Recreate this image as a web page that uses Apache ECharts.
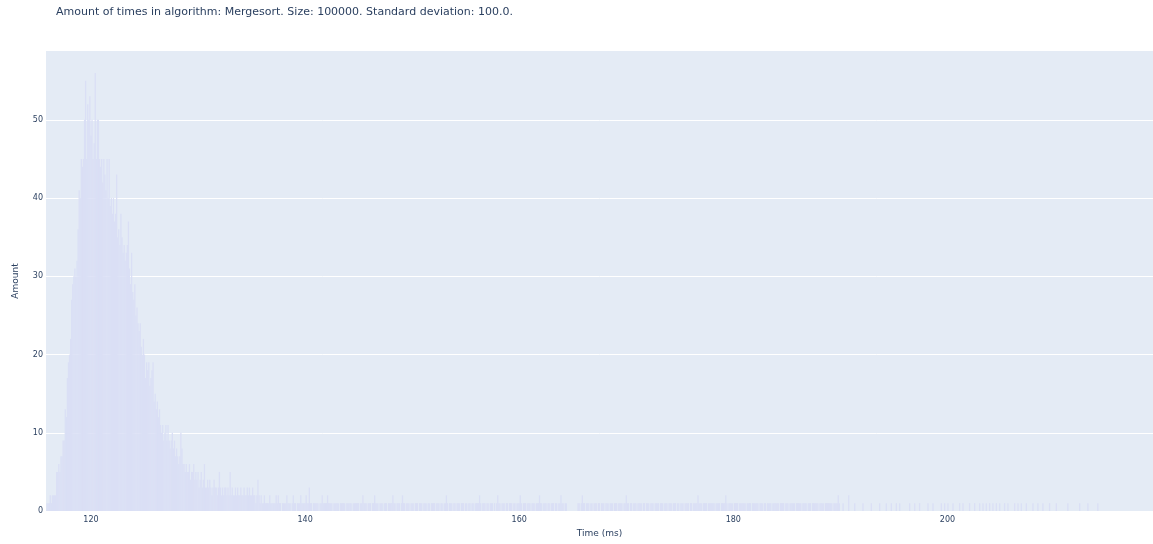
<!DOCTYPE html>
<html>
<head>
<meta charset="utf-8">
<script src="https://cdn.jsdelivr.net/npm/echarts@6/dist/echarts.min.js"></script>
<style>
  html, body { margin: 0; padding: 0; background: #ffffff; }
  #chart { width: 1153px; height: 544px; }
</style>
</head>
<body>
<div id="chart"></div>
<script>
// Histogram of measured run times (ms), counted in 0.1 ms bins.
const binStart = 115.9;
const binStep = 0.1;

// 115.9 – 135.9 ms: the main peak
const peakCounts = [
  1,
  1,1,2,1,2,2,2,2,5,5,
  6,5,7,7,9,9,13,12,17,19,
  20,22,27,29,30,31,30,32,36,41,
  40,45,44,45,50,55,45,52,50,53,
  48,50,45,47,56,45,50,50,45,44,
  45,42,45,43,41,45,40,45,39,40,
  38,40,37,38,43,35,36,34,38,35,
  33,34,32,33,34,37,31,29,33,28,
  27,29,25,26,24,23,24,21,20,22,
  20,17,19,18,19,16,17,18,19,14,
  15,13,14,12,13,11,10,11,9,10,
  11,9,11,9,8,9,10,8,9,7,
  8,7,6,7,10,8,6,6,5,6,
  5,5,6,4,5,5,6,4,5,4,
  5,3,4,5,3,4,6,3,3,4,
  3,4,3,2,3,4,3,3,2,3,
  5,3,2,3,2,3,3,2,3,2,
  5,2,3,2,2,3,2,3,2,2,
  3,2,2,3,2,2,3,2,3,2,
  2,3,2,2,1,2,4,2,1,2
];

// 136.0 – 189.9 ms: the long tail (continues the same 0.1 ms bins)
const tailCounts = [
  1,1,2,1,1,1,1,2,1,1,
  1,1,1,2,1,2,1,1,0,1,
  1,1,1,2,1,1,1,0,1,2,
  1,1,0,1,1,1,2,1,1,1,
  1,2,1,1,3,1,1,0,1,1,
  1,1,1,0,1,1,2,1,1,1,
  1,2,1,1,1,1,0,1,1,1,
  1,1,0,1,1,1,1,1,0,1,
  1,1,1,1,0,1,1,1,1,1,
  1,0,1,1,2,1,1,1,0,1,
  1,1,0,1,1,2,1,1,1,0,
  1,1,1,0,1,1,1,0,1,1,
  1,1,2,1,1,0,1,1,1,0,
  1,2,1,1,0,1,1,1,0,1,
  1,1,0,1,1,1,0,1,1,1,
  0,1,1,1,0,1,1,0,1,1,
  1,1,0,1,1,1,0,1,1,0,
  1,1,2,1,0,1,1,1,0,1,
  1,0,1,1,1,0,1,1,1,0,
  1,1,0,1,1,0,1,1,0,1,
  1,1,1,2,1,0,1,1,1,0,
  1,1,0,1,1,1,0,1,0,1,
  2,1,1,0,1,1,1,0,1,1,
  0,1,1,1,0,1,1,0,1,1,
  1,2,1,0,1,1,1,0,1,1,
  1,0,1,1,1,0,1,1,1,2,
  1,1,0,1,1,1,0,1,1,0,
  1,1,1,0,1,1,0,1,1,2,
  1,1,0,1,1,0,0,0,0,0,
  0,0,0,0,0,1,1,0,1,2,
  1,1,0,1,1,1,0,1,1,0,
  1,1,1,0,1,1,0,1,1,1,
  0,1,1,1,0,1,1,1,0,1,
  1,1,0,1,1,1,1,0,1,1,
  2,1,1,0,1,1,0,1,1,1,
  0,1,1,1,1,0,1,1,0,1,
  1,1,0,1,1,1,0,1,1,1,
  1,0,1,1,1,0,1,1,1,0,
  1,1,1,0,1,1,1,0,1,1,
  0,1,1,1,0,1,1,1,1,0,
  1,1,0,1,1,1,1,2,1,1,
  1,0,1,1,1,1,0,1,1,1,
  1,1,1,0,1,1,1,1,0,1,
  1,1,1,2,1,0,1,1,1,1,
  0,1,1,1,1,0,1,1,1,1,
  1,1,0,1,1,1,1,0,1,1,
  1,1,1,1,0,1,1,1,0,1,
  1,0,1,1,1,1,0,1,1,1,
  1,1,1,0,1,1,1,1,0,1,
  1,1,0,1,1,1,1,1,0,1,
  1,1,1,1,0,1,1,1,1,0,
  1,1,1,0,1,1,1,1,1,1,
  0,1,1,1,1,0,1,1,1,1,
  1,1,1,0,1,1,1,1,2,1
];

// Sparse single measurements beyond 190 ms
const sparseTimes = [
  190.25, 190.78, 191.34, 192.11, 192.89, 193.67, 194.29, 194.76, 195.23, 195.54,
  196.47, 196.94, 197.40, 198.18, 198.65, 199.43, 199.74, 200.05, 200.52, 201.14,
  201.45, 202.07, 202.54, 203.01, 203.32, 203.63, 203.94, 204.25, 204.57, 204.88,
  205.34, 205.65, 206.28, 206.59, 206.90, 207.37, 207.99, 208.45, 208.92, 209.54,
  210.17, 211.25, 212.35, 213.12, 214.05
];
const sparseCounts = [
  1, 2, 1, 1, 1, 1, 1, 1, 1, 1,
  1, 1, 1, 1, 1, 1, 1, 1, 1, 1,
  1, 1, 1, 1, 1, 1, 1, 1, 1, 1,
  1, 1, 1, 1, 1, 1, 1, 1, 1, 1,
  1, 1, 1, 1, 1
];

const xTicks = [120, 140, 160, 180, 200];
const yTicks = [0, 10, 20, 30, 40, 50];

const titleText = 'Amount of times in algorithm: Mergesort. Size: 100000. Standard deviation: 100.0.';
const xName = 'Time (ms)';
const yName = 'Amount';

// Build [time, count] pairs
const points = [];
peakCounts.concat(tailCounts).forEach((c, i) => {
  if (c > 0) points.push([+(binStart + i * binStep).toFixed(2), c]);
});
sparseTimes.forEach((t, i) => points.push([t, sparseCounts[i]]));

const textColor = '#2a3f5f';
const font = '"DejaVu Sans", Verdana, sans-serif';

const chart = echarts.init(document.getElementById('chart'), null, { renderer: 'canvas' });
chart.setOption({
  animation: false,
  backgroundColor: '#ffffff',
  title: {
    text: titleText,
    left: 51,
    top: 2,
    textStyle: { color: textColor, fontFamily: font, fontSize: 11, fontWeight: 'normal' }
  },
  grid: {
    left: 46, right: 0, top: 51, bottom: 33,
    show: true, backgroundColor: '#E4EBF5', borderWidth: 0,
    containLabel: false
  },
  xAxis: {
    type: 'value',
    min: 115.8,
    max: 219.2,
    name: xName,
    nameLocation: 'middle',
    nameGap: 18,
    nameTextStyle: { color: textColor, fontFamily: font, fontSize: 9 },
    axisLine: { show: false },
    axisTick: { show: false, customValues: xTicks },
    splitLine: { show: false },
    axisLabel: {
      customValues: xTicks,
      color: textColor, fontFamily: font, fontSize: 8, margin: 5
    }
  },
  yAxis: {
    type: 'value',
    min: 0,
    max: 58.8,
    name: yName,
    nameLocation: 'middle',
    nameGap: 26,
    nameTextStyle: { color: textColor, fontFamily: font, fontSize: 9 },
    axisLine: { show: false },
    axisTick: { show: false, customValues: yTicks },
    splitLine: { show: true, lineStyle: { color: '#ffffff', width: 1 } },
    axisLabel: {
      customValues: yTicks,
      color: textColor, fontFamily: font, fontSize: 8, margin: 3
    }
  },
  series: [{
    type: 'bar',
    data: points,
    barWidth: 1.3,
    itemStyle: { color: '#dadff5' },
    silent: true,
    large: false
  }]
});
</script>
</body>
</html>
